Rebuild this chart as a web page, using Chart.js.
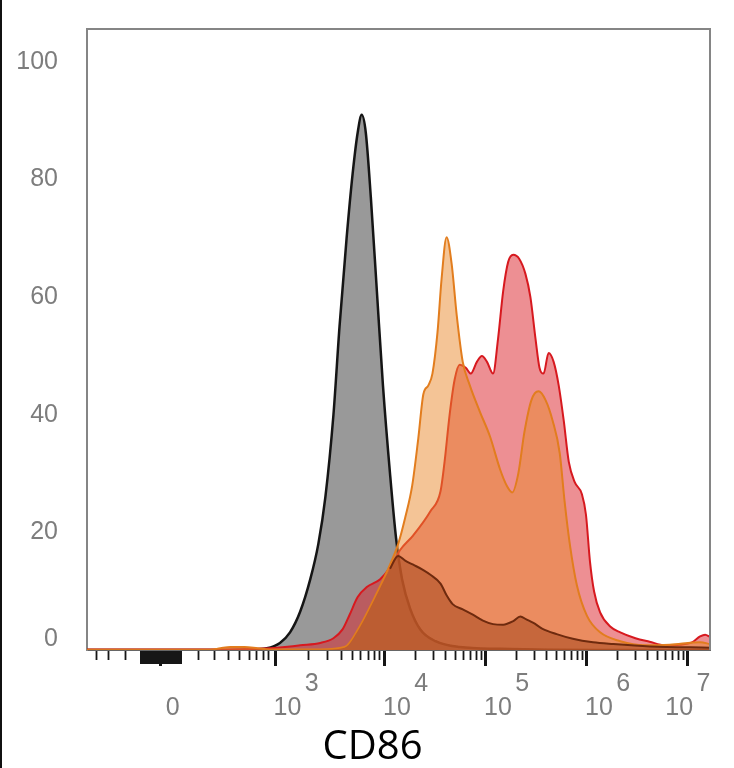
<!DOCTYPE html>
<html>
<head>
<meta charset="utf-8">
<script src="https://cdn.jsdelivr.net/npm/chart.js@4.4.1/dist/chart.umd.min.js"></script>
<style>
  body { margin: 0; background: #fff; }
  #wrap { position: relative; width: 734px; height: 768px; }
  #edge { position: absolute; left: 0; top: 0; width: 2px; height: 768px; background: #111; }
</style>
</head>
<body>
<div id="wrap">
  <canvas id="myChart" width="734" height="768"></canvas>
  <div id="edge"></div>
</div>
<script>
// x values are display positions on the biexponential CD86 axis (10^n sits at n)
const isoPos   = [1.05, 2.17, 2.66, 2.83, 2.96, 3.06, 3.16, 3.26, 3.34, 3.41, 3.49, 3.55, 3.62, 3.68, 3.73, 3.77, 3.81, 3.86, 3.92, 3.98, 4.05, 4.11, 4.17, 4.25, 4.35, 4.50, 4.74, 5.14, 6.13, 7.22];
const isoCount = [0, 0, 0.1, 0.3, 1.2, 3, 6.5, 12, 18, 26, 40, 55, 70, 81, 88, 91, 88, 77, 61, 45, 30, 19, 12, 7, 3.5, 1.5, 0.5, 0.2, 0, 0];

const redPos   = [1.05, 2.17, 2.86, 3.06, 3.16, 3.36, 3.49, 3.58, 3.65, 3.73, 3.82, 3.95, 4.05, 4.15, 4.28, 4.45, 4.55, 4.59, 4.64, 4.69, 4.74, 4.80, 4.85, 4.91, 4.96, 5.01, 5.07, 5.12, 5.17, 5.22, 5.27, 5.33, 5.39, 5.44, 5.49, 5.53, 5.57, 5.62, 5.67, 5.72, 5.77, 5.82, 5.88, 5.95, 5.99, 6.03, 6.07, 6.13, 6.23, 6.33, 6.48, 6.62, 6.77, 6.92, 7.04, 7.12, 7.17, 7.22];
const redCount = [0.1, 0.1, 0.3, 0.6, 0.8, 1.2, 2, 3.5, 6, 9, 10.7, 12, 14, 17, 19.5, 23.6, 27, 32, 40, 46, 48.5, 48, 47, 49, 50, 49, 47, 53, 61, 66, 67.2, 66.5, 64, 60, 53, 48, 47, 50.5, 49, 45, 39, 32, 28.5, 26.5, 23, 15, 10, 6.4, 4, 3, 2, 1.4, 0.8, 0.9, 1.3, 2.3, 2.6, 2.2];

const orangePos   = [1.05, 2.27, 2.37, 2.47, 2.61, 2.74, 2.86, 3.36, 3.60, 3.75, 3.90, 4.05, 4.13, 4.20, 4.27, 4.33, 4.38, 4.43, 4.47, 4.52, 4.56, 4.61, 4.66, 4.71, 4.77, 4.84, 4.94, 5.04, 5.14, 5.21, 5.26, 5.32, 5.38, 5.45, 5.52, 5.59, 5.66, 5.73, 5.78, 5.83, 5.90, 6.00, 6.13, 6.33, 6.57, 6.82, 7.12, 7.22];
const orangeCount = [0.05, 0.05, 0.3, 0.5, 0.5, 0.3, 0.1, 0.1, 0.5, 4, 9, 14.5, 18, 22.5, 28, 36, 43.5, 45, 47, 54, 63, 70.2, 65.7, 57, 49, 45, 40.5, 36.3, 30.7, 27.8, 26.8, 30, 37, 42.5, 44, 42.5, 39, 33.5, 25, 18, 11, 5.8, 3, 1.5, 0.8, 0.9, 1.3, 1.0];

const brownPos   = [1.05, 3.36, 3.60, 3.75, 3.90, 4.05, 4.13, 4.20, 4.28, 4.38, 4.45, 4.55, 4.61, 4.67, 4.77, 4.87, 4.97, 5.07, 5.17, 5.27, 5.34, 5.40, 5.47, 5.56, 5.70, 5.86, 6.06, 6.26, 6.62, 7.22];
const brownCount = [0.05, 0.05, 0.4, 3.8, 8.7, 13.8, 16, 15.2, 14.5, 13.6, 12.8, 11.3, 9.3, 7.8, 6.9, 6, 5, 4.4, 4.3, 4.9, 5.7, 5.2, 4.6, 3.6, 2.7, 1.9, 1.3, 1.0, 0.6, 0.4];

// axis ticks
const yTickValues = [0, 20, 40, 60, 80, 100];
const majorTickPos = [1.78, 2.916, 4, 5, 6, 7];
const xTickBase = ['0', '10', '10', '10', '10', '10'];
const xTickExp  = ['', '3', '4', '5', '6', '7'];
const linearTickPos = [1.149, 1.267, 1.436, 2.158, 2.317, 2.446, 2.564, 2.663, 2.733, 2.802, 2.851];

function buildXTicks() {
  const ticks = [];
  majorTickPos.forEach((v, i) => ticks.push({ value: v, kind: 'major', idx: i }));
  linearTickPos.forEach(v => ticks.push({ value: v, kind: 'minor' }));
  for (let s = 1.585; s <= 1.99; s += 0.026) ticks.push({ value: s, kind: 'cluster' });
  for (let i = 1; i < majorTickPos.length - 1; i++) {
    const start = majorTickPos[i], width = majorTickPos[i + 1] - start;
    for (let k = 2; k <= 9; k++) ticks.push({ value: start + Math.log10(k) * width, kind: 'minor' });
  }
  return ticks.sort((a, b) => a.value - b.value);
}

function toPoints(xs, ys) {
  return xs.map((x, i) => ({ x: x, y: ys[i] }));
}

// top and right edges of the plot frame
const framePlugin = {
  id: 'frame',
  afterDatasetsDraw(chart) {
    const { ctx, chartArea } = chart;
    ctx.save();
    ctx.strokeStyle = '#858585';
    ctx.lineWidth = 2;
    ctx.beginPath();
    ctx.moveTo(chartArea.left, chartArea.top);
    ctx.lineTo(chartArea.right, chartArea.top);
    ctx.lineTo(chartArea.right, chartArea.bottom);
    ctx.stroke();
    ctx.restore();
  }
};

const ctx = document.getElementById('myChart');
new Chart(ctx, {
  type: 'line',
  data: {
    datasets: [{
      label: 'Isotype',
      data: toPoints(isoPos, isoCount),
      borderColor: '#151515',
      backgroundColor: '#999999',
      borderWidth: 2.5,
      fill: 'origin',
      order: 4
    }, {
      label: 'Sample A',
      data: toPoints(redPos, redCount),
      borderColor: '#d7191f',
      backgroundColor: 'rgba(219,32,40,0.5)',
      borderWidth: 2,
      fill: 'origin',
      order: 3
    }, {
      label: 'Sample B',
      data: toPoints(orangePos, orangeCount),
      borderColor: '#e27d1e',
      backgroundColor: 'rgba(233,137,45,0.5)',
      borderWidth: 2,
      fill: 'origin',
      order: 2
    }, {
      label: 'Sample C',
      data: toPoints(brownPos, brownCount),
      borderColor: '#6e2a0e',
      backgroundColor: 'rgba(170,74,32,0.55)',
      borderWidth: 2,
      fill: 'origin',
      order: 1,
      segment: {
        borderColor: c => c.p1.parsed.x <= 4.1 ? 'rgba(0,0,0,0)' : '#6e2a0e'
      }
    }]
  },
  options: {
    responsive: false,
    animation: false,
    devicePixelRatio: 1,
    elements: {
      point: { radius: 0 },
      line: { cubicInterpolationMode: 'monotone' }
    },
    layout: { padding: { top: 29, right: 24, bottom: 0, left: 0 } },
    plugins: {
      legend: { display: false },
      tooltip: { enabled: false }
    },
    scales: {
      x: {
        type: 'linear',
        min: 1.05,
        max: 7.218,
        afterBuildTicks: scale => { scale.ticks = buildXTicks(); },
        afterFit: scale => { scale.height = 118; scale.paddingLeft = 0; scale.paddingRight = 0; },
        ticks: {
          autoSkip: false,
          maxRotation: 0,
          minRotation: 0,
          color: '#7d7d7d',
          font: { family: 'Liberation Sans', size: 25, lineHeight: 0.96 },
          padding: 6,
          labelOffset: 12,
          callback: function (value, index, ticks) {
            const t = ticks[index];
            if (t.kind !== 'major') return '';
            const base = xTickBase[t.idx], exp = xTickExp[t.idx];
            if (exp === '') return ['', base];
            if (t.idx === xTickBase.length - 1) return [' ' + exp, base + '      '];
            return ['       ' + exp, base];
          }
        },
        grid: {
          drawOnChartArea: false,
          drawTicks: true,
          tickLength: 16,
          tickColor: '#161616',
          tickWidth: c => (c.tick && c.tick.kind === 'minor') ? 1.8 : 3,
          tickBorderDash: c => {
            const k = c.tick && c.tick.kind;
            if (k === 'major') return [];
            if (k === 'cluster') return [13, 40];
            return [9, 40];
          }
        },
        border: { display: true, color: '#666666', width: 2 },
        title: {
          display: true,
          text: 'CD86     ',
          color: '#000',
          font: { family: 'Open Sans', size: 40, lineHeight: 1 },
          padding: { top: 0, bottom: 0 }
        }
      },
      y: {
        min: 0,
        max: 105.6,
        afterBuildTicks: scale => { scale.ticks = yTickValues.map(v => ({ value: v })); },
        afterFit: scale => { scale.width = 87; scale.paddingTop = 0; scale.paddingBottom = 0; },
        ticks: {
          color: '#7d7d7d',
          font: { family: 'Liberation Sans', size: 25, lineHeight: 0.9 },
          padding: 29,
          callback: v => v === 0 ? ['0', ''] : String(v)
        },
        grid: { drawOnChartArea: false, drawTicks: false },
        border: { display: true, color: '#858585', width: 2 }
      }
    }
  },
  plugins: [framePlugin]
});
</script>
</body>
</html>
